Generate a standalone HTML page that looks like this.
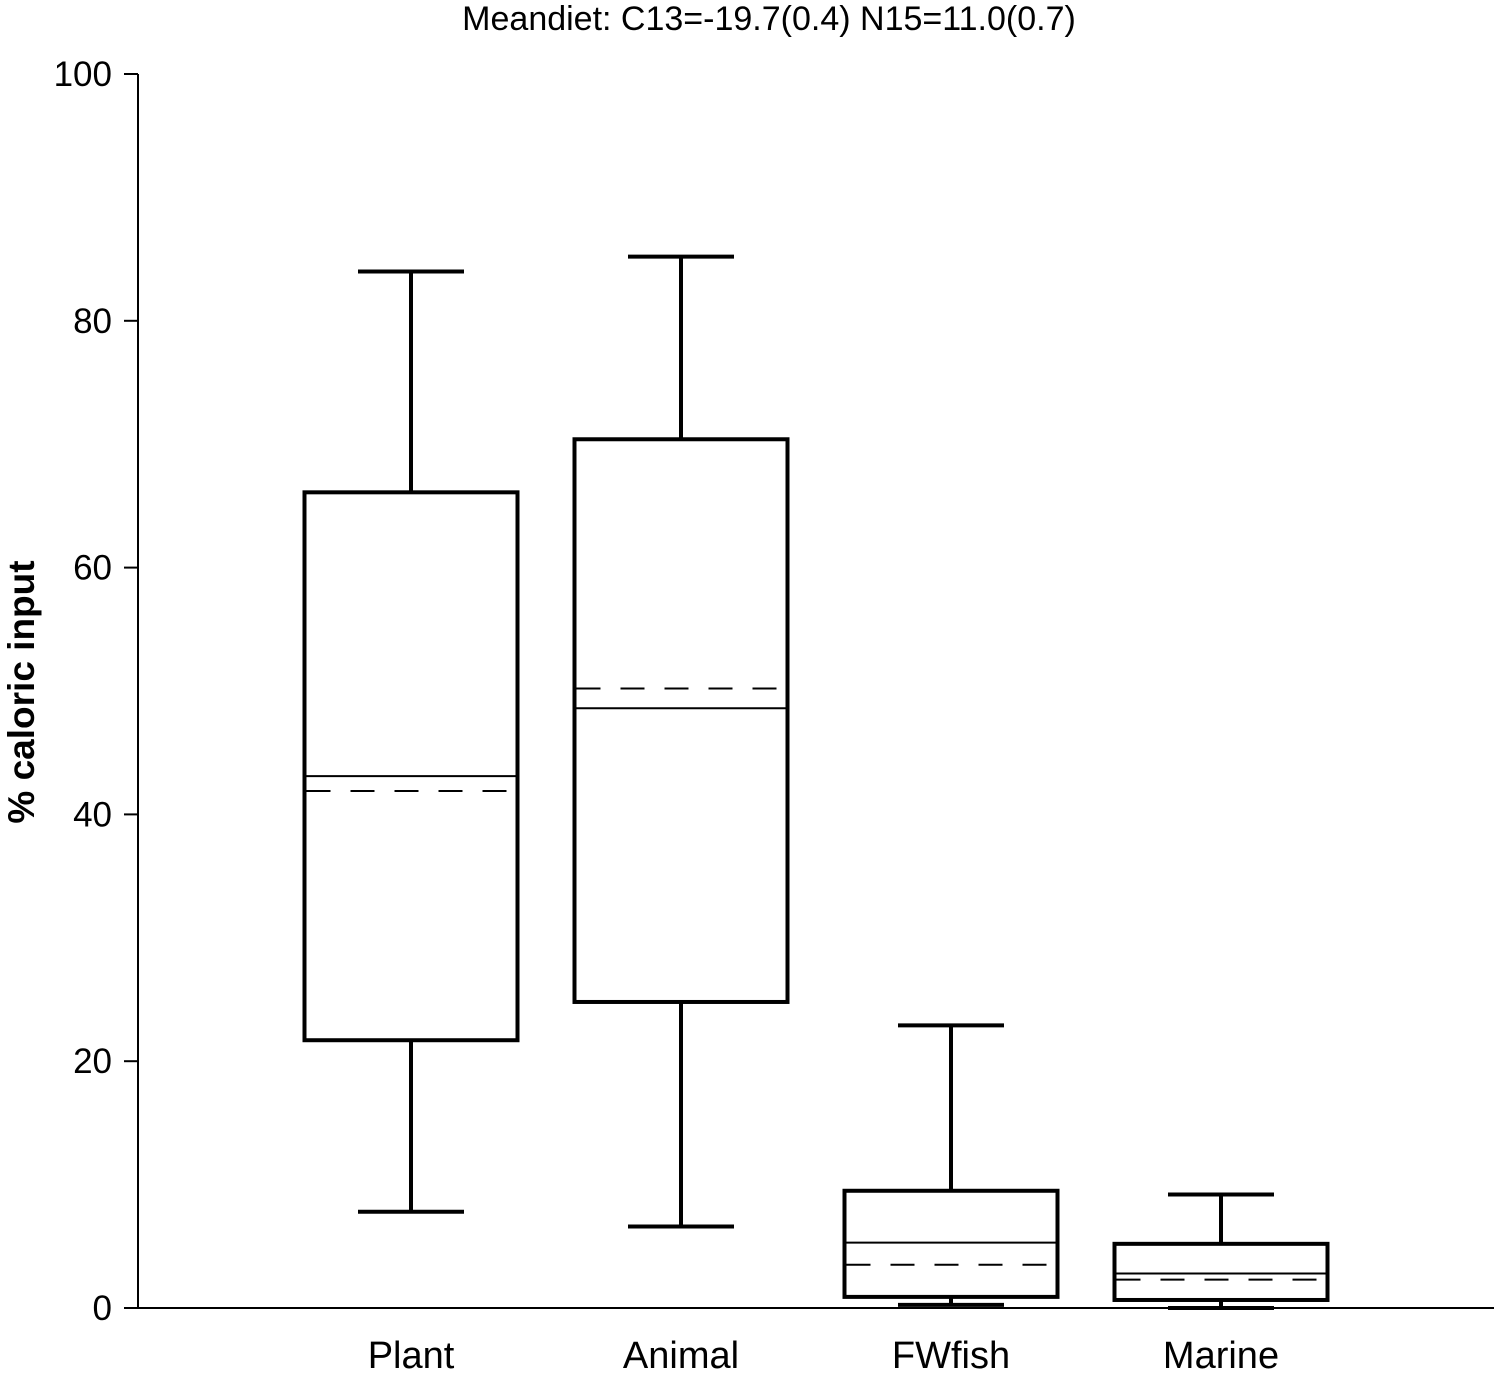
<!DOCTYPE html>
<html><head><meta charset="utf-8"><style>
body{margin:0;background:#fff;}
svg text{font-family:"Liberation Sans",Arial,sans-serif;fill:#000;}
</style></head><body>
<svg id="chart" width="1500" height="1375" xmlns="http://www.w3.org/2000/svg">
<text x="769" y="30" font-size="34" text-anchor="middle">Meandiet: C13=-19.7(0.4) N15=11.0(0.7)</text>
<text transform="translate(34,692) rotate(-90)" font-size="37" font-weight="bold" text-anchor="middle">% caloric input</text>
<g id="axes"></g>
<g id="boxes"></g>
</svg>
<script>
const categories = ["Plant","Animal","FWfish","Marine"];
const whiskerLow = [7.8, 6.6, 0.25, 0];
const q1 = [21.7, 24.8, 0.9, 0.65];
const median = [43.1, 48.6, 5.3, 2.8];
const mean = [41.9, 50.2, 3.5, 2.3];
const q3 = [66.1, 70.4, 9.5, 5.2];
const whiskerHigh = [84.0, 85.2, 22.9, 9.2];
const yTicks = [0,20,40,60,80,100];

const NS="http://www.w3.org/2000/svg";
const y = v => 1308 - v*12.34;
const x = i => 411 + i*270;
const boxW = 213, capW = 106;
function mk(tag, attrs, parent){const e=document.createElementNS(NS,tag);for(const k in attrs)e.setAttribute(k,attrs[k]);parent.appendChild(e);return e;}
const axes=document.getElementById('axes'), boxes=document.getElementById('boxes');

let a=mk('line',{x1:138,y1:y(100),x2:138,y2:y(0)+1,stroke:'#000','stroke-width':2},axes);


a=mk('line',{x1:137,y1:y(0),x2:1494,y2:y(0),stroke:'#000','stroke-width':2},axes);


yTicks.forEach(t=>{
  let l=mk('line',{x1:124,y1:y(t),x2:138,y2:y(t),stroke:'#000','stroke-width':2},axes);
  
  
  let tx=mk('text',{x:112,y:y(t)+12,'font-size':35,'text-anchor':'end'},axes);
  tx.textContent=t;
  
  
});
categories.forEach((c,i)=>{
  const cx=x(i);
  const g=mk('g',{},boxes);
  
  
  mk('line',{x1:cx,y1:y(whiskerHigh[i]),x2:cx,y2:y(q3[i]),stroke:'#000','stroke-width':4},g);
  mk('line',{x1:cx,y1:y(q1[i]),x2:cx,y2:y(whiskerLow[i]),stroke:'#000','stroke-width':4},g);
  mk('line',{x1:cx-capW/2,y1:y(whiskerHigh[i]),x2:cx+capW/2,y2:y(whiskerHigh[i]),stroke:'#000','stroke-width':4},g);
  mk('line',{x1:cx-capW/2,y1:y(whiskerLow[i]),x2:cx+capW/2,y2:y(whiskerLow[i]),stroke:'#000','stroke-width':4},g);
  mk('rect',{x:cx-boxW/2,y:y(q3[i]),width:boxW,height:y(q1[i])-y(q3[i]),fill:'#fff',stroke:'#000','stroke-width':4},g);
  mk('line',{x1:cx-boxW/2,y1:y(median[i]),x2:cx+boxW/2,y2:y(median[i]),stroke:'#000','stroke-width':2},g);
  mk('line',{x1:cx-boxW/2+2,y1:y(mean[i]),x2:cx+boxW/2-2,y2:y(mean[i]),stroke:'#000','stroke-width':2,'stroke-dasharray':'24 20'},g);
  let tx=mk('text',{x:cx,y:1368,'font-size':38,'text-anchor':'middle'},axes);
  tx.textContent=c;
  
  
});
</script>
</body></html>
